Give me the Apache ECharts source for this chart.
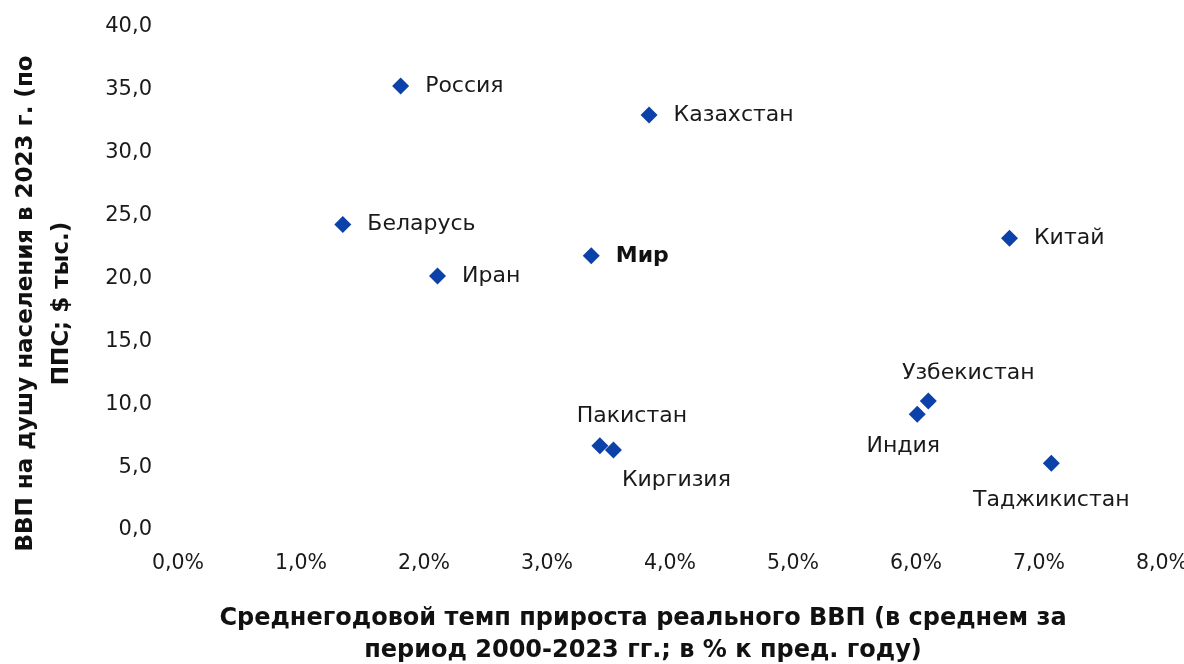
<!DOCTYPE html>
<html>
<head>
<meta charset="utf-8">
<script src="https://cdn.jsdelivr.net/npm/echarts@6/dist/echarts.min.js"></script>
<style>
  html, body { margin: 0; padding: 0; background: #fff; }
  #chart { width: 1184px; height: 664px; }
</style>
</head>
<body>
<div id="chart"></div>
<script>
// countries, avg real GDP growth 2000-2023 (%), GDP per capita 2023 (PPP, $ thousand)
const countries = ['Россия', 'Казахстан', 'Беларусь', 'Иран', 'Мир', 'Китай', 'Узбекистан', 'Индия', 'Пакистан', 'Киргизия', 'Таджикистан'];
const growth = [1.81, 3.83, 1.34, 2.11, 3.36, 6.76, 6.10, 6.01, 3.43, 3.54, 7.10];
const gdpPerCapita = [35.3, 33.0, 24.3, 20.2, 21.8, 23.2, 10.25, 9.2, 6.7, 6.36, 5.3];

const FONT = 'DejaVu Sans';
const MARK = '#0b41a8';

// where each label sits relative to its marker
const labelPlace = {
  'Узбекистан': { position: 'top', offset: [40, 8] },
  'Индия': { position: 'bottom', offset: [-14, -4] },
  'Пакистан': { position: 'top', offset: [32, 6] },
  'Киргизия': { position: 'bottom', offset: [63, -5] },
  'Таджикистан': { position: 'bottom', offset: [0, 1] },
};

const fmt = (v) => v.toFixed(1).replace('.', ',');

const chart = echarts.init(document.getElementById('chart'));
chart.setOption({
  animation: false,
  textStyle: { fontFamily: FONT },
  grid: { left: 178, right: 22, top: 27, bottom: 134, outerBoundsMode: 'none', containLabel: false },
  xAxis: {
    type: 'value', min: 0, max: 8, interval: 1,
    splitLine: { show: false }, axisLine: { show: false }, axisTick: { show: false },
    axisLabel: { formatter: (v) => fmt(v) + '%', fontSize: 20.5, color: '#1a1a1a', margin: 23 },
    name: 'Среднегодовой темп прироста реального ВВП (в среднем за\nпериод 2000-2023 гг.; в % к пред. году)',
    nameLocation: 'middle', nameGap: 73,
    nameTextStyle: { fontSize: 24, fontWeight: 'bold', color: '#111', lineHeight: 32, padding: [0, 54, 0, 0] },
  },
  yAxis: {
    type: 'value', min: 0, max: 40, interval: 5,
    splitLine: { show: false }, axisLine: { show: false }, axisTick: { show: false },
    axisLabel: { formatter: fmt, fontSize: 21, color: '#1a1a1a', margin: 26 },
    name: 'ВВП на душу населения в 2023 г. (по\nППС; $ тыс.)',
    nameLocation: 'middle', nameRotate: 90, nameGap: 98,
    nameTextStyle: { fontSize: 23, fontWeight: 'bold', color: '#111', lineHeight: 36, padding: [0, 50, 0, 0] },
  },
  series: [{
    type: 'scatter',
    symbol: 'diamond',
    symbolSize: 17,
    itemStyle: { color: MARK, opacity: 1 },
    label: {
      show: true, position: 'right', distance: 16,
      formatter: (p) => p.name,
      fontSize: 22, color: '#1a1a1a', fontFamily: FONT,
    },
    data: countries.map((name, i) => {
      const item = { name, value: [growth[i], gdpPerCapita[i]] };
      const place = labelPlace[name];
      if (place) item.label = { position: place.position, offset: place.offset };
      if (name === 'Мир') item.label = { fontWeight: 'bold', color: '#111' };
      return item;
    }),
  }],
});
</script>
</body>
</html>
